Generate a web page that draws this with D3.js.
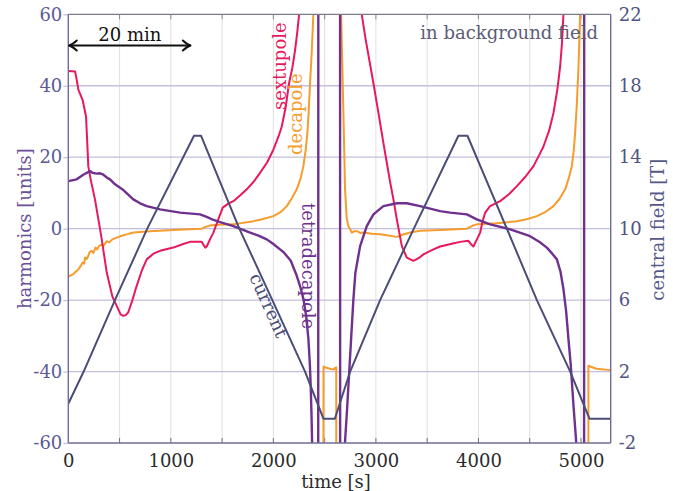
<!DOCTYPE html>
<html>
<head>
<meta charset="utf-8">
<script src="https://cdn.jsdelivr.net/npm/d3@7"></script>
<style>
  html, body { margin: 0; padding: 0; background: #fff; }
  svg { display: block; }
  text { font-family: "DejaVu Serif", serif; }
</style>
</head>
<body>
<svg id="chart" width="673" height="491"></svg>
<script>
// ---------- data ----------
const timeTicks = [0, 1000, 2000, 3000, 4000, 5000];
const timeGrid = [500, 1000, 1500, 2000, 2500, 3000, 3500, 4000, 4500, 5000];
const harmonicTicks = [-60, -40, -20, 0, 20, 40, 60];
const fieldTicks = [-2, 2, 6, 10, 14, 18, 22];

// [time s, harmonic units]
const sextupole = [
  [0,44.1],[66,44],[80,42],[98,38.9],[140,36],[173,31.4],[185,24],[195,17.5],[218,13.8],[260,8.2],
  [309,0],[326,-3],[375,-12.3],[430,-19],[472,-21.6],[510,-24],[537,-24.4],[560,-24.2],[585,-23.4],
  [625,-20],[667,-16],[720,-11.5],[765,-8.6],[830,-7],[895,-6.2],[1024,-5.3],[1120,-4.3],[1187,-3.7],
  [1301,-3.7],[1335,-5.3],[1350,-5],[1382,-3],[1415,-1.1],[1463,2.6],[1506,5.9],[1560,7],[1610,7.7],
  [1680,9.4],[1740,11],[1810,13.2],[1870,15.6],[1940,18.6],[2000,22.1],[2050,25.8],[2082,28.6],
  [2120,34],[2153,40.7],[2185,45],[2212,50],[2235,55.5],[2251,60],[2270,75],[2300,200],
  [2800,200],[2845,80],[2862,60],[2900,53],[2976,40.7],[3030,31.5],[3073,24],[3139,13],[3171,8.2],
  [3204,2.6],[3253,-4.9],[3301,-8.1],[3366,-9],[3420,-8.2],[3463,-7.2],[3561,-5.8],[3626,-5],
  [3740,-4.2],[3821,-3.7],[3902,-3.4],[3935,-4.6],[3951,-5],[3985,-3],[4017,-1.1],[4040,2],
  [4066,4.5],[4114,6.3],[4212,7.7],[4300,9.7],[4375,11.9],[4460,14.6],[4537,17.5],[4600,21],
  [4634,23],[4690,27.5],[4732,32.4],[4770,39],[4797,45.4],[4815,52],[4829,60],[4850,80],[4900,200],
  [5290,200]
];

const decapole = [
  [0,-13.4],[30,-13],[49,-12.7],[75,-12],[98,-11.4],[120,-10.5],[140,-9.5],[155,-9.8],[163,-8.1],
  [180,-8.5],[195,-7.6],[210,-6.5],[228,-6.2],[245,-6.8],[265,-5.3],[280,-5.8],[300,-4.9],[320,-4.5],
  [345,-4.8],[375,-3.5],[400,-3.8],[430,-3],[472,-2.5],[520,-2],[570,-1.6],[634,-1.1],[797,-0.7],
  [1024,-0.4],[1301,0],[1340,0.5],[1382,0.9],[1450,1.1],[1610,1.2],[1805,2.1],[1900,2.7],[2000,3.5],
  [2070,4.6],[2131,6.3],[2180,8.5],[2228,11],[2265,14],[2293,17.5],[2315,22],[2332,26.8],[2345,33],
  [2358,40.7],[2375,50],[2390,60],[2400,80],[2410,200],
  null,
  [2486,-200],[2489,-38.6],[2500,-38.8],[2560,-39.3],[2590,-39.4],[2600,-39],[2613,-38.8],[2616,-200],
  null,
  [2655,200],[2661,60],[2685,30],[2699,11],[2715,3],[2732,0.7],[2765,-1.1],[2790,-0.7],[2814,-0.7],
  [2850,-1.2],[2878,-1.1],[2960,-1.4],[3041,-1.6],[3120,-1.9],[3204,-2.3],[3250,-1.8],[3334,-1.1],
  [3431,-0.6],[3626,-0.4],[3887,0],[3940,0.8],[3984,1.2],[4179,1.5],[4375,2.1],[4480,2.7],
  [4570,3.5],[4650,4.6],[4732,6.3],[4790,8.3],[4846,11],[4880,14],[4911,17.5],[4930,22],[4943,26.8],
  [4960,35],[4976,45.4],[4992,60],[5000,80],[5010,200],
  null,
  [5070,-200],[5073,-38.3],[5090,-38.6],[5150,-39.2],[5290,-39.6]
];

const tetradecapole = [
  [0,13.3],[82,13.8],[146,15.1],[212,16.1],[240,15.6],[277,15.4],[310,15.5],[342,15.1],[380,14.2],
  [407,13.8],[456,12.4],[537,10.8],[634,8.2],[700,7.1],[765,6.3],[895,5.4],[1090,4.5],[1285,4],
  [1350,3.3],[1410,2.5],[1480,1.8],[1610,0.7],[1773,-1.1],[1860,-2],[1936,-3],[2000,-4.3],
  [2065,-5.8],[2100,-6.6],[2170,-9],[2228,-13.2],[2265,-16.5],[2293,-19.7],[2320,-24.5],
  [2342,-30.9],[2356,-38],[2365,-44.8],[2372,-52],[2378,-60],[2390,-100],[2436,-300],
  [2440,300],[2649,300],[2653,-300],[2688,-100],[2700,-59.2],[2720,-50],[2740,-40],[2760,-30],
  [2780,-20],[2800,-12.3],[2846,-4.9],[2911,0.7],[2976,4],[3073,6.3],[3204,7.1],[3301,7.1],
  [3431,6.3],[3529,5.6],[3626,4.9],[3724,4.5],[3887,4],[3984,2.6],[4114,1.2],[4310,-0.2],
  [4504,-2.1],[4600,-3.8],[4667,-5.3],[4720,-7],[4765,-8.6],[4800,-12],[4829,-16.9],[4855,-23],
  [4878,-30.9],[4900,-38],[4927,-49.5],[4953,-59.5],[4970,-100],[5029,-300],[5033,300],[5290,300]
];

// [time s, central field T]
const current = [
  [0,0.2],[150,2],[455,6],[770,10],[1226,15.2],[1295,15.2],[1668,10],[1990,6],[2309,2],
  [2488,-0.64],[2600,-0.64],[2749,2],[3041,6],[3370,10],[3805,15.2],[3893,15.2],[4277,10],
  [4570,6],[4895,2],[5083,-0.64],[5290,-0.64]
];

// ---------- layout ----------
const L = 68.3, R = 610.7, T = 14.3, B = 443;
const svg = d3.select("#chart");
const x = d3.scaleLinear().domain([0, 5290]).range([L, R]);
const yL = d3.scaleLinear().domain([-60, 60]).range([B, T]);
const yR = d3.scaleLinear().domain([-2, 22]).range([B, T]);

const FONT = 18;
const C = {
  sext: "#e8185c", deca: "#f59c2c", tetra: "#70318e", curr: "#4b4c78",
  frame: "#6f6c98", hgrid: "#c4bddb", vgrid: "#e0e0e0",
  leftTick: "#5b5a96", rightTick: "#4f5486", dark: "#2b2b2b"
};

svg.append("defs").append("clipPath").attr("id", "plotclip")
  .append("rect").attr("x", L).attr("y", T).attr("width", R - L).attr("height", B - T);

// grid
svg.append("g").selectAll("line").data(timeGrid).join("line")
  .attr("x1", d => x(d)).attr("x2", d => x(d)).attr("y1", T).attr("y2", B)
  .attr("stroke", C.vgrid).attr("stroke-width", 1);
svg.append("g").selectAll("line").data(harmonicTicks.filter(d => d > -60 && d < 60)).join("line")
  .attr("x1", L).attr("x2", R).attr("y1", d => yL(d)).attr("y2", d => yL(d))
  .attr("stroke", C.hgrid).attr("stroke-width", 1.3);

// axes via d3
const bottomAxis = d3.axisBottom(x).tickValues(timeTicks).tickSize(0).tickPadding(10)
  .tickFormat(d3.format("d"));
const gB = svg.append("g").attr("transform", `translate(0,${B})`).call(bottomAxis);
gB.select(".domain").remove();
gB.selectAll("text").attr("font-size", FONT).attr("fill", C.dark)
  .attr("font-family", "DejaVu Serif").attr("dy", "0.76em");

const leftAxis = d3.axisLeft(yL).tickValues(harmonicTicks).tickSize(5).tickPadding(1)
  .tickFormat(d => String(d));
const gL = svg.append("g").attr("transform", `translate(${L},0)`).call(leftAxis);
gL.select(".domain").remove();
gL.selectAll("line").attr("stroke", C.hgrid).attr("stroke-width", 1.2);
gL.selectAll("text").attr("font-size", FONT).attr("fill", C.leftTick)
  .attr("font-family", "DejaVu Serif");

const rightAxis = d3.axisRight(yR).tickValues(fieldTicks).tickSize(0).tickPadding(8)
  .tickFormat(d => String(d));
const gR = svg.append("g").attr("transform", `translate(${R},0)`).call(rightAxis);
gR.select(".domain").remove();
gR.selectAll("text").attr("font-size", FONT).attr("fill", C.rightTick)
  .attr("font-family", "DejaVu Serif");

// inner small ticks on top/bottom
const minorT = d3.range(500, 5290, 500);
svg.append("g").selectAll("line").data(minorT).join("line")
  .attr("x1", d => x(d)).attr("x2", d => x(d)).attr("y1", B).attr("y2", B - 5)
  .attr("stroke", C.frame).attr("stroke-width", 1);
svg.append("g").selectAll("line").data(minorT).join("line")
  .attr("x1", d => x(d)).attr("x2", d => x(d)).attr("y1", T).attr("y2", T + 5)
  .attr("stroke", "#888").attr("stroke-width", 1);

// curves
const plot = svg.append("g").attr("clip-path", "url(#plotclip)");
const lineL = d3.line().defined(d => d !== null).x(d => x(d[0])).y(d => yL(d[1]));
const lineR = d3.line().x(d => x(d[0])).y(d => yR(d[1]));

plot.append("path").datum(decapole).attr("d", lineL)
  .attr("fill", "none").attr("stroke", C.deca).attr("stroke-width", 2).attr("stroke-linejoin", "round");
plot.append("path").datum(sextupole).attr("d", lineL)
  .attr("fill", "none").attr("stroke", C.sext).attr("stroke-width", 2).attr("stroke-linejoin", "round");
plot.append("path").datum(tetradecapole).attr("d", lineL)
  .attr("fill", "none").attr("stroke", C.tetra).attr("stroke-width", 2.4).attr("stroke-linejoin", "round");
plot.append("path").datum(current).attr("d", lineR)
  .attr("fill", "none").attr("stroke", C.curr).attr("stroke-width", 2).attr("stroke-linejoin", "round");

// frame
svg.append("line").attr("x1", L).attr("x2", R).attr("y1", T).attr("y2", T)
  .attr("stroke", "#7a7a8a").attr("stroke-width", 1.2);
svg.append("line").attr("x1", L).attr("x2", R).attr("y1", B).attr("y2", B)
  .attr("stroke", C.frame).attr("stroke-width", 1.4);
svg.append("line").attr("x1", L).attr("x2", L).attr("y1", T).attr("y2", B)
  .attr("stroke", C.frame).attr("stroke-width", 1.4);
svg.append("line").attr("x1", R).attr("x2", R).attr("y1", T).attr("y2", B)
  .attr("stroke", C.frame).attr("stroke-width", 1.4);

// axis titles
svg.append("text").attr("transform", `translate(31,${(T + B) / 2}) rotate(-90)`)
  .attr("text-anchor", "middle").attr("font-size", FONT).attr("fill", "#6a4f98")
  .text("harmonics [units]");
svg.append("text").attr("transform", `translate(663.5,${(T + B) / 2 + 1}) rotate(-90)`)
  .attr("text-anchor", "middle").attr("font-size", FONT).attr("fill", "#55598a")
  .text("central field [T]");
svg.append("text").attr("x", 336).attr("y", 488)
  .attr("text-anchor", "middle").attr("font-size", FONT).attr("fill", C.dark)
  .text("time [s]");

// 20 min arrow
const ay = 45.5, ax0 = x(0) + 1, ax1 = x(1200) - 1;
const arrow = svg.append("g").attr("stroke", "#111").attr("stroke-width", 2)
  .attr("fill", "none").attr("stroke-linecap", "round").attr("stroke-linejoin", "round");
arrow.append("line").attr("x1", ax0).attr("x2", ax1).attr("y1", ay).attr("y2", ay);
arrow.append("path").attr("d", `M${ax0 + 7.5},${ay - 5} Q${ax0 + 3},${ay - 1} ${ax0},${ay} Q${ax0 + 3},${ay + 1} ${ax0 + 7.5},${ay + 5}`);
arrow.append("path").attr("d", `M${ax1 - 7.5},${ay - 5} Q${ax1 - 3},${ay - 1} ${ax1},${ay} Q${ax1 - 3},${ay + 1} ${ax1 - 7.5},${ay + 5}`);
svg.append("text").attr("x", (ax0 + ax1) / 2).attr("y", 41)
  .attr("text-anchor", "middle").attr("font-size", FONT).attr("fill", "#111")
  .text("20 min");

svg.append("text").attr("x", 598).attr("y", 39)
  .attr("text-anchor", "end").attr("font-size", FONT).attr("fill", "#5c5b78")
  .text("in background field");

// curve labels
svg.append("text").attr("transform", "translate(286,110) rotate(-90)")
  .attr("font-size", FONT).attr("fill", C.sext).text("sextupole");
svg.append("text").attr("transform", "translate(302,155) rotate(-90)")
  .attr("font-size", FONT).attr("fill", C.deca).text("decapole");
svg.append("text").attr("transform", "translate(302,203) rotate(90)")
  .attr("font-size", FONT).attr("fill", C.tetra).text("tetradecapole");
svg.append("text").attr("transform", "translate(263,308) rotate(66)")
  .attr("text-anchor", "middle").attr("font-size", FONT).attr("fill", C.curr).text("current");
</script>
</body>
</html>
